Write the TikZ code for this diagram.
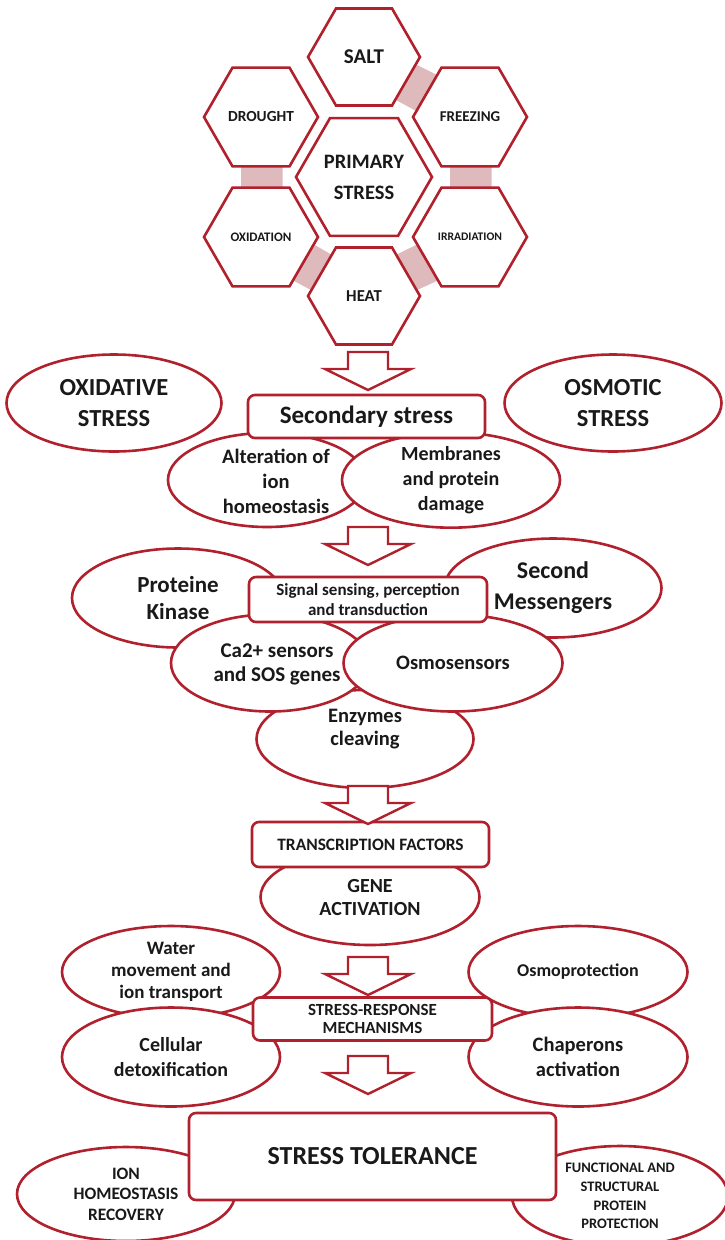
\documentclass[tikz,border=0pt]{standalone}
\usepackage{fontspec}
\setmainfont{Carlito}
\usetikzlibrary{shapes.geometric,calc}
\definecolor{frame}{RGB}{176,32,45}
\definecolor{band}{RGB}{222,186,188}
\definecolor{ink}{RGB}{25,25,25}
\newcommand\fs[2]{\fontsize{#1}{#2}\selectfont\bfseries}
\pgfdeclarelayer{background}
\pgfsetlayers{background,main}
% shaded link between two facing hexagon edges
\newcommand\linkband[6]{%
  \fill[band] ($(#1.#2)!.15!(#1.#3)$) -- ($(#1.#2)!.88!(#1.#3)$)
    -- ($(#4.#5)!.88!(#4.#6)$) -- ($(#4.#5)!.15!(#4.#6)$) -- cycle;}
% hollow block arrow hanging from a named top point
\newcommand\hollowarrow[1]{%
  \draw[hollow] (#1) ++(-20,0) -- ++(40,0) -- ++(0,17) -- ++(23,0)
    -- ++(-43,21) -- ++(-43,-21) -- ++(23,0) -- cycle;}
\begin{document}
\begin{tikzpicture}[x=1pt,y=-1pt,
  every node/.style={text=ink, align=center, inner sep=0pt, outer sep=0pt},
  hexcell/.style={draw=frame, line width=2.6pt, fill=white, regular polygon,
    regular polygon sides=6, minimum size=#1},
  oval/.style={draw=frame, line width=2.6pt, fill=white, ellipse},
  tag/.style={draw=frame, line width=2.6pt, fill=white, rounded corners=7pt, rectangle},
  hollow/.style={draw=frame, line width=2.4pt, fill=white, line join=miter}]
\useasboundingbox (0,0) rectangle (724,1240);

% ---- primary stress honeycomb ----
\node[hexcell=112pt, font=\fs{21}{25}] (salt) at (364,57) {SALT};
\node[hexcell=114pt, font=\fs{15.4}{18}] (drought) at (261,117) {DROUGHT};
\node[hexcell=114pt, font=\fs{15}{18}] (freezing) at (470,117) {FREEZING};
\node[hexcell=136pt, font=\fs{20.5}{31}] (primary) at (364,177) {PRIMARY\\STRESS};
\node[hexcell=114pt, font=\fs{13}{16}] (oxidation) at (261,237) {OXIDATION};
\node[hexcell=114pt, font=\fs{11.6}{14}] (irradiation) at (470,237) {IRRADIATION};
\node[hexcell=112pt, font=\fs{16.7}{20}] (heat) at (364,296) {HEAT};
\begin{pgfonlayer}{background}
  \linkband{salt}{0}{-60}{freezing}{120}{180}
  \linkband{freezing}{-120}{-60}{irradiation}{120}{60}
  \linkband{irradiation}{180}{-120}{heat}{60}{0}
  \linkband{heat}{120}{180}{oxidation}{0}{-60}
  \linkband{drought}{-120}{-60}{oxidation}{120}{60}
\end{pgfonlayer}

% ---- secondary stress ----
\node[oval, minimum width=215pt, minimum height=97pt, font=\fs{24.5}{31}] (oxstress) at (114,403) {OXIDATIVE\\STRESS};
\node[oval, minimum width=217pt, minimum height=97pt, font=\fs{24.5}{31}] (osstress) at (613,403) {OSMOTIC\\STRESS};
\node[oval, minimum width=198pt, minimum height=94pt] (ionalt) at (267,480) {};
\node[font=\fs{20.5}{25}] (ionalt-t) at (276,481) {Alteration of\\ion\\homeostasis};
\node[oval, minimum width=218pt, minimum height=94pt, font=\fs{20}{25}] (membr) at (451,480) {Membranes\\and protein\\damage};
\node[tag, minimum width=237pt, minimum height=43pt, font=\fs{25}{30}] (secondary) at (366.5,416.5) {Secondary stress};

% ---- signalling ----
\node[oval, minimum width=212pt, minimum height=99pt, font=\fs{23}{27}] (kinase) at (178,598) {Proteine\\Kinase};
\node[oval, minimum width=217pt, minimum height=99pt, font=\fs{24}{31}] (messengers) at (553,588) {Second\\Messengers};
\node[oval, minimum width=217pt, minimum height=98pt] (enzymes) at (365,739) {};
\node[oval, minimum width=198pt, minimum height=97pt] (calcium) at (270,663) {};
\node[oval, minimum width=219pt, minimum height=97pt, font=\fs{20.5}{24}] (osmosens) at (453,663) {Osmosensors};
\node[font=\fs{21}{24}] (calcium-t) at (277,664) {Ca2+ sensors\\and SOS genes};
\node[font=\fs{20.5}{23}] (enzymes-t) at (365,729) {Enzymes\\cleaving};
\node[tag, minimum width=238pt, minimum height=45pt, font=\fs{17}{19.5}] (signal) at (368,599.5) {Signal sensing, perception\\and transduction};

% ---- transcription ----
\node[oval, minimum width=219pt, minimum height=96pt, font=\fs{20}{23}] (gene) at (370,897) {GENE\\ACTIVATION};
\node[tag, minimum width=237pt, minimum height=45pt, font=\fs{17.4}{20}] (tf) at (370.5,844.5) {TRANSCRIPTION FACTORS};

% ---- stress-response mechanisms ----
\node[oval, minimum width=218pt, minimum height=92pt, font=\fs{19}{22}] (water) at (171,972) {Water\\movement and\\ion transport};
\node[oval, minimum width=219pt, minimum height=92pt, font=\fs{18}{22}] (osmoprot) at (578,972) {Osmoprotection};
\node[oval, minimum width=218pt, minimum height=99pt, font=\fs{20}{25}] (cellular) at (171,1057) {Cellular\\detoxification};
\node[oval, minimum width=219pt, minimum height=99pt, font=\fs{20.5}{25}] (chaperons) at (578,1057) {Chaperons\\activation};
\node[tag, minimum width=239pt, minimum height=43pt, font=\fs{17}{18.5}] (srm) at (372.5,1019) {STRESS-RESPONSE\\MECHANISMS};

% ---- tolerance ----
\node[oval, minimum width=218pt, minimum height=94pt, font=\fs{17.4}{20.5}] (ionrec) at (126,1194) {ION\\HOMEOSTASIS\\RECOVERY};
\node[oval, minimum width=216pt, minimum height=100pt, font=\fs{14.5}{18.7}] (protect) at (620,1196) {FUNCTIONAL AND\\STRUCTURAL\\PROTEIN\\PROTECTION};
\node[tag, minimum width=367pt, minimum height=87pt, font=\fs{26}{30}] (tolerance) at (372.5,1156.5) {STRESS TOLERANCE};

% ---- flow arrows ----
\coordinate (ar1) at (368,352);
\coordinate (ar2) at (368,527);
\coordinate (ar3) at (368,786);
\coordinate (ar4) at (368,957);
\coordinate (ar5) at (368,1056);
\hollowarrow{ar1}
\hollowarrow{ar2}
\hollowarrow{ar3}
\hollowarrow{ar4}
\hollowarrow{ar5}
\end{tikzpicture}
\end{document}
